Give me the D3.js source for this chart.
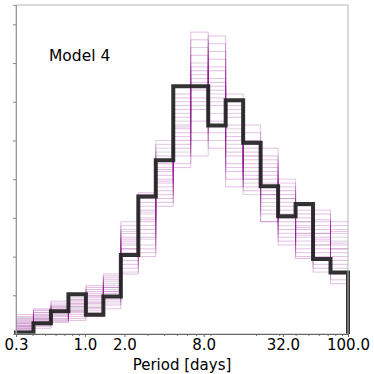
<!DOCTYPE html>
<html>
<head>
<meta charset="utf-8">
<script src="https://cdn.jsdelivr.net/npm/d3@7"></script>
<style>
  body { margin: 0; background: #fff; }
  text { font-family: "DejaVu Sans", sans-serif; }
</style>
</head>
<body>
<script>
// 19 log-spaced bins from 0.3 to 100 days
const binLo = 0.3, binHi = 100, nBins = 19;
const xTicks = [0.3, 1, 2, 8, 32, 100];
const yTicks = [0, 1, 2, 3, 4, 5, 6, 7, 8];

// thick line (the model)
const model = [0.04, 0.28, 0.59, 1.03, 0.50, 0.97, 2.04, 3.55, 4.49, 6.40, 6.40, 5.39, 6.04, 4.94, 3.82, 3.04, 3.36, 1.94, 1.59];

// thin lines (observed realisations)
const thin = [
  [0.20,0.35,0.55,0.70,0.80,1.10,2.10,2.90,4.10,5.20,6.30,6.10,5.00,4.40,3.90,3.20,2.70,2.40,2.10],
  [0.30,0.45,0.40,0.85,0.65,1.25,2.40,2.60,3.80,5.60,6.90,6.60,4.60,4.10,3.60,3.00,2.50,2.70,2.30],
  [0.15,0.25,0.65,0.55,0.95,0.90,1.90,3.20,4.40,4.90,5.80,7.10,5.40,4.70,4.20,3.50,2.90,2.20,1.80],
  [0.40,0.55,0.35,0.95,0.75,1.35,2.70,2.30,4.70,5.50,7.40,5.70,4.90,3.90,3.30,2.80,2.30,2.60,2.50],
  [0.10,0.30,0.75,0.60,1.10,1.00,2.20,3.50,3.60,5.90,6.10,6.80,5.90,4.90,3.70,3.60,3.10,2.00,1.60],
  [0.25,0.60,0.50,0.40,0.55,1.45,1.70,2.80,4.90,4.60,6.60,5.20,4.30,4.60,4.50,2.60,2.60,2.90,2.70],
  [0.35,0.20,0.85,0.75,0.85,0.75,2.50,3.00,3.40,5.30,5.20,7.50,5.60,3.70,3.10,3.80,2.10,3.10,2.20],
  [0.45,0.40,0.30,1.05,1.20,1.20,2.90,2.10,4.20,6.20,7.80,6.40,4.00,5.20,4.00,2.40,2.80,1.70,1.40],
  [0.20,0.50,0.60,0.50,0.50,1.55,2.00,3.60,3.90,4.40,6.50,5.90,6.20,4.20,2.90,3.40,3.30,2.30,2.80],
  [0.12,0.15,0.45,0.90,1.00,0.65,2.30,2.50,4.60,5.00,5.50,7.70,4.80,4.50,4.80,2.90,2.00,2.80,1.90],
  [0.28,0.38,0.70,0.65,0.70,1.30,1.60,3.10,5.00,5.70,7.00,5.00,5.20,3.60,3.40,4.00,2.60,1.90,2.40],
  [0.38,0.65,0.55,0.80,1.25,1.05,2.60,2.70,3.30,4.80,6.00,6.30,4.40,5.00,4.30,3.10,3.00,2.50,1.30],
  [0.18,0.28,0.80,0.45,0.60,1.15,2.80,3.30,4.30,6.00,4.60,6.90,5.70,4.00,3.50,2.50,2.40,3.20,2.60],
  [0.50,0.42,0.38,1.00,0.90,0.85,1.80,2.00,3.70,5.40,7.20,4.80,3.80,4.80,3.80,3.30,3.20,2.10,2.00],
  [0.08,0.55,0.62,0.70,1.05,1.40,2.20,3.40,4.50,4.30,6.80,6.50,5.10,4.30,2.90,3.70,1.95,2.60,2.90],
  [0.32,0.32,0.48,0.35,0.45,0.95,2.45,2.20,4.00,5.10,5.00,7.30,6.00,5.40,4.10,2.30,2.75,1.60,1.70],
  [0.22,0.48,0.72,0.88,1.15,1.50,1.55,3.65,3.50,6.10,7.60,5.50,4.70,3.80,4.60,3.00,2.20,2.95,2.35],
  [0.42,0.22,0.58,0.62,0.80,0.80,2.65,2.45,4.80,4.70,5.90,6.20,5.30,4.60,3.20,3.50,2.90,2.30,1.55],
  [0.15,0.38,0.33,0.78,0.68,1.20,2.05,2.95,3.95,5.35,6.40,5.40,4.20,4.90,3.60,2.70,3.35,1.80,2.20],
  [0.27,0.62,0.68,0.58,0.98,1.10,2.35,3.15,4.25,5.80,6.70,6.00,5.80,4.00,4.40,3.90,2.55,2.45,2.65]
];

const W = 374, H = 374;
const margin = { top: 5, right: 26, bottom: 40, left: 16 };
const width = W - margin.left - margin.right;
const height = H - margin.top - margin.bottom;

const svg = d3.select("body").append("svg")
  .attr("width", W)
  .attr("height", H);

const g = svg.append("g")
  .attr("transform", "translate(" + margin.left + "," + margin.top + ")");

const x = d3.scaleLog().domain([binLo, binHi]).range([0, width]);
const y = d3.scaleLinear().domain([0, 8.5]).range([height, 0]);

const edges = d3.range(nBins + 1).map(i => binLo * Math.pow(binHi / binLo, i / nBins));

function stepPoints(vals, closeEnds) {
  const pts = [];
  if (closeEnds) pts.push([edges[0], 0]);
  vals.forEach((v, i) => {
    pts.push([edges[i], v]);
    pts.push([edges[i + 1], v]);
  });
  if (closeEnds) pts.push([edges[nBins], 0]);
  return pts;
}

const line = d3.line()
  .x(d => x(d[0]))
  .y(d => y(d[1]));

const thinColors = ["#8b008b", "#9a109a", "#8b008b", "#7a4a7a", "#8b008b", "#a020a0", "#8b008b"];

g.append("g").selectAll("path")
  .data(thin)
  .enter().append("path")
  .attr("d", d => line(stepPoints(d, false)))
  .attr("fill", "none")
  .attr("stroke", (d, i) => thinColors[i % thinColors.length])
  .attr("stroke-opacity", 0.26)
  .attr("stroke-width", 1);

g.append("path")
  .datum(stepPoints(model, true))
  .attr("d", line)
  .attr("fill", "none")
  .attr("stroke", "#222")
  .attr("stroke-opacity", 0.92)
  .attr("stroke-width", 4)
  .attr("stroke-linejoin", "miter");

// frame
g.append("rect")
  .attr("width", width)
  .attr("height", height)
  .attr("fill", "none")
  .attr("stroke", "#b5b5b5")
  .attr("stroke-width", 1);

// y axis: ticks only
const yAxis = d3.axisLeft(y).tickValues(yTicks).tickSize(3).tickFormat("");
g.append("g").call(yAxis)
  .call(a => a.select(".domain").attr("stroke", "#999"))
  .call(a => a.selectAll(".tick line").attr("stroke", "#888"));

// x axis: labeled majors plus minor ticks
const minor = [];
[0.1, 1, 10].forEach(dec => {
  for (let k = 2; k <= 9; k++) {
    const v = k * dec;
    if (v > binLo && v < binHi && !xTicks.includes(v)) minor.push(v);
  }
});

g.append("g")
  .attr("transform", "translate(0," + height + ")")
  .call(d3.axisBottom(x).tickValues(minor).tickSize(2).tickFormat(""))
  .call(a => a.select(".domain").remove())
  .call(a => a.selectAll(".tick line").attr("stroke", "#777"));

g.append("g")
  .attr("transform", "translate(0," + height + ")")
  .call(d3.axisBottom(x).tickValues(xTicks).tickSize(3).tickPadding(2).tickFormat(d3.format(".1f")))
  .call(a => a.select(".domain").attr("stroke", "#666"))
  .call(a => a.selectAll(".tick line").attr("stroke", "#666"))
  .call(a => a.selectAll(".tick text")
    .attr("fill", "#000")
    .style("font-size", "15px")
    .style("font-family", "'DejaVu Sans', sans-serif"));

g.append("text")
  .attr("x", width / 2)
  .attr("y", height + 36)
  .attr("text-anchor", "middle")
  .style("font-size", "15px")
  .text("Period [days]");

g.append("text")
  .attr("x", 33)
  .attr("y", 56)
  .style("font-size", "15.5px")
  .text("Model 4");
</script>
</body>
</html>
